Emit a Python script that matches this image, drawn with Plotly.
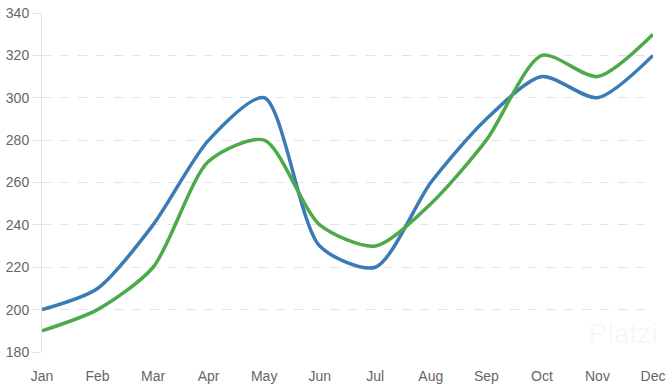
import plotly.graph_objects as go

months = ["Jan", "Feb", "Mar", "Apr", "May", "Jun", "Jul", "Aug", "Sep", "Oct", "Nov", "Dec"]
series_blue = [200, 210, 240, 280, 300, 230, 220, 260, 290, 310, 300, 320]
series_green = [190, 200, 220, 270, 280, 240, 230, 250, 280, 320, 310, 330]
y_ticks = [180, 200, 220, 240, 260, 280, 300, 320, 340]

fig = go.Figure()
fig.add_trace(go.Scatter(x=months, y=series_blue, mode="lines",
                         line=dict(color="#3a7bb6", width=3.5, shape="spline", smoothing=0.75),
                         showlegend=False, cliponaxis=False))
fig.add_trace(go.Scatter(x=months, y=series_green, mode="lines",
                         line=dict(color="#4caa49", width=3.5, shape="spline", smoothing=0.75),
                         showlegend=False, cliponaxis=False))

fig.update_layout(
    width=670, height=387,
    margin=dict(l=42, r=17, t=13, b=35, autoexpand=False),
    plot_bgcolor="white", paper_bgcolor="white",
    font=dict(family="Helvetica, Liberation Sans, Arial, sans-serif", size=14, color="#666666"),
    xaxis=dict(range=[0, 11], showgrid=False, showline=False, ticks="", zeroline=False,
               automargin=False, ticklabeloverflow="allow", ticklabelstandoff=14,
               tickfont=dict(size=14, color="#666666")),
    yaxis=dict(range=[180, 340], tickvals=y_ticks, showgrid=True, gridcolor="#e3e3e3",
               griddash="dash", gridwidth=1, showline=True, linecolor="#e3e3e3", linewidth=1,
               ticks="outside", ticklen=9, tickcolor="#e3e3e3", zeroline=False,
               automargin=False, ticklabeloverflow="allow",
               tickfont=dict(size=14, color="#666666")),
)
fig.add_annotation(x=1, y=0, xref="paper", yref="paper", xanchor="right", yanchor="bottom",
                   yshift=1, xshift=6, text="Platzi", showarrow=False,
                   font=dict(size=28, color="rgba(0,0,0,0.05)"))
fig.write_html("out.html", config={"displayModeBar": False},
               post_script="document.body.style.margin='0';document.body.style.overflow='hidden';")
